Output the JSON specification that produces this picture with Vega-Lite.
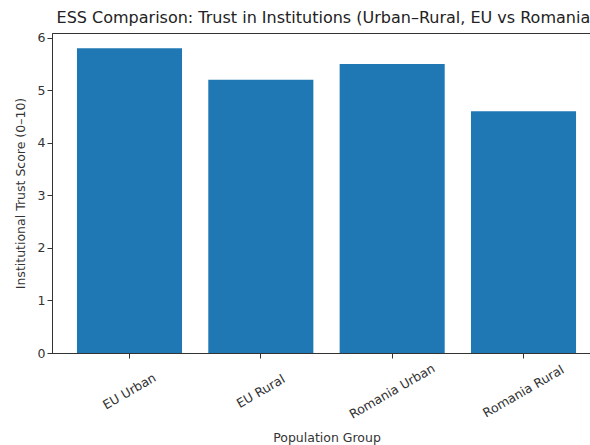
{
  "$schema": "https://vega.github.io/schema/vega-lite/v6.json",
  "autosize": "none",
  "padding": {"left": 52, "top": 33, "right": 0, "bottom": 92},
  "width": 549,
  "height": 320,
  "background": "white",
  "title": {
    "text": "ESS Comparison: Trust in Institutions (Urban–Rural, EU vs Romania)",
    "font": "DejaVu Sans",
    "fontSize": 16,
    "fontWeight": "normal",
    "color": "#222222",
    "anchor": "middle",
    "offset": 6
  },
  "config": {
    "view": {"stroke": "#333333", "strokeWidth": 1},
    "axis": {
      "labelFont": "DejaVu Sans",
      "titleFont": "DejaVu Sans",
      "labelFontSize": 12.5,
      "titleFontSize": 12.5,
      "titleFontWeight": "normal",
      "labelColor": "#333333",
      "titleColor": "#333333",
      "domainColor": "#333333",
      "tickColor": "#333333",
      "tickSize": 5,
      "grid": false
    }
  },
  "data": {
    "values": [
      {"group": "EU Urban", "score": 5.8},
      {"group": "EU Rural", "score": 5.2},
      {"group": "Romania Urban", "score": 5.5},
      {"group": "Romania Rural", "score": 4.6}
    ]
  },
  "mark": {"type": "bar", "color": "#1f77b4"},
  "encoding": {
    "x": {
      "field": "group",
      "type": "nominal",
      "sort": null,
      "scale": {"paddingInner": 0.2, "paddingOuter": 0.19},
      "axis": {
        "title": "Population Group",
        "labelAngle": -30,
        "labelAlign": "center",
        "labelBaseline": "middle",
        "labelPadding": 33,
        "titleY": 84,
        "titleBaseline": "middle",
        "encode": {
          "labels": {
            "y": {"value": {"expr": "17 + 1.95 * length(datum.label)"}}
          }
        }
      }
    },
    "y": {
      "field": "score",
      "type": "quantitative",
      "scale": {"domain": [0, 6.09], "nice": false},
      "axis": {
        "title": "Institutional Trust Score (0–10)",
        "values": [0, 1, 2, 3, 4, 5, 6],
        "titlePadding": 10
      }
    }
  }
}
